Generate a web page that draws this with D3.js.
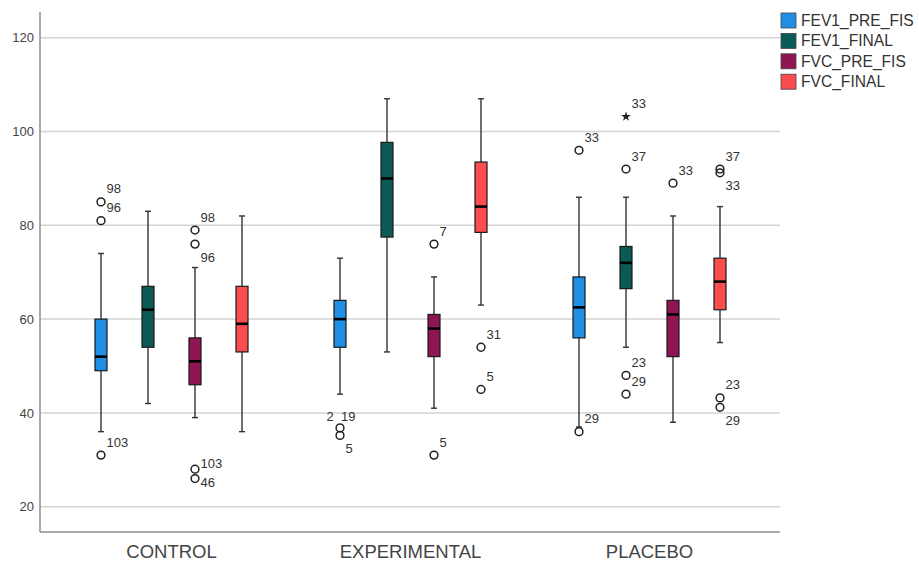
<!DOCTYPE html>
<html>
<head>
<meta charset="utf-8">
<script src="https://cdn.jsdelivr.net/npm/d3@7"></script>
<style>
  html, body { margin: 0; padding: 0; background: #fff; }
  svg { display: block; font-family: "Liberation Sans", Arial, sans-serif; }
</style>
</head>
<body>
<div id="chart"></div>
<script>
// ── Data ────────────────────────────────────────────────────────
const GROUPS = ["CONTROL", "EXPERIMENTAL", "PLACEBO"];
const SERIES = ["FEV1_PRE_FIS", "FEV1_FINAL", "FVC_PRE_FIS", "FVC_FINAL"];
const COLORS = ["#1f8fe6", "#0c5a55", "#8f1652", "#fb4c4f"];
const Y_TICKS = [20, 40, 60, 80, 100, 120];

// [lower whisker, Q1, median, Q3, upper whisker] per group
const FEV1_PRE_FIS = [[36, 49, 52, 60, 74], [44, 54, 60, 64, 73], [37, 56, 62.5, 69, 86]];
const FEV1_FINAL   = [[42, 54, 62, 67, 83], [53, 77.5, 90, 97.7, 107], [54, 66.5, 72, 75.5, 86]];
const FVC_PRE_FIS  = [[39, 46, 51, 56, 71], [41, 52, 58, 61, 69], [38, 52, 61, 64, 82]];
const FVC_FINAL    = [[36, 53, 59, 67, 82], [63, 78.5, 84, 93.5, 107], [55, 62, 68, 73, 84]];
const STATS = [FEV1_PRE_FIS, FEV1_FINAL, FVC_PRE_FIS, FVC_FINAL];

// outliers: group, series, value, case label, kind ("o" outlier, "*" extreme)
const OUTLIER_GROUP  = [0, 0, 0, 0, 0, 0, 0, 1, 1, 1, 1, 1, 1, 2, 2, 2, 2, 2, 2, 2, 2, 2, 2, 2];
const OUTLIER_SERIES = [0, 0, 0, 2, 2, 2, 2, 0, 0, 2, 2, 3, 3, 0, 0, 1, 1, 1, 1, 2, 3, 3, 3, 3];
const OUTLIER_VALUE  = [85, 81, 31, 79, 76, 28, 26, 36.8, 35.2, 76, 31, 54, 45, 96, 36, 103.2, 92, 48, 44, 89, 92, 91.2, 43.2, 41.2];
const OUTLIER_LABEL  = ["98", "96", "103", "98", "96", "103", "46", "2  19", "5", "7", "5", "31", "5",
                        "33", "29", "33", "37", "23", "29", "33", "37", "33", "23", "29"];
const OUTLIER_KIND   = ["o", "o", "o", "o", "o", "o", "o", "o", "o", "o", "o", "o", "o",
                        "o", "o", "*", "o", "o", "o", "o", "o", "o", "o", "o"];
// where the case label sits relative to its marker
const LABEL_SIDE     = ["ne", "ne", "ne", "ne", "se", "en", "es", "n", "se", "ne", "ne", "ne", "ne",
                        "ne", "ne", "ne", "ne", "ne", "ne", "ne", "ne", "se", "ne", "se"];

// ── Layout ──────────────────────────────────────────────────────
const W = 919, H = 565;
const plot = { left: 40, right: 780, top: 12, bottom: 532 };

const svg = d3.select("#chart").append("svg")
    .attr("width", W)
    .attr("height", H);

const y = d3.scaleLinear()
    .domain([14.6, 125.5])
    .range([plot.bottom, plot.top]);

const x0 = d3.scaleBand()
    .domain(GROUPS)
    .range([52, 769]);

const x1 = d3.scaleBand()
    .domain(SERIES)
    .range([-94, 94]);

const boxW = 12;
const cx = (g, s) => x0(GROUPS[g]) + x0.bandwidth() / 2 + x1(SERIES[s]) + x1.bandwidth() / 2;

// ── Grid lines ──────────────────────────────────────────────────
svg.append("g").selectAll("line")
    .data(Y_TICKS)
    .join("line")
    .attr("x1", plot.left).attr("x2", plot.right)
    .attr("y1", d => y(d)).attr("y2", d => y(d))
    .attr("stroke", "#d3d3d3")
    .attr("stroke-width", 1.5);

// ── Axes ────────────────────────────────────────────────────────
const yAxis = svg.append("g")
    .attr("transform", `translate(${plot.left},0)`)
    .call(d3.axisLeft(y).tickValues(Y_TICKS).tickSize(0).tickPadding(6));
yAxis.select(".domain").remove();
yAxis.selectAll("text")
    .attr("fill", "#444")
    .style("font-size", "13px")
    .style("font-family", "'Liberation Sans', Arial, sans-serif");

const xAxis = svg.append("g")
    .attr("transform", `translate(0,${plot.bottom})`)
    .call(d3.axisBottom(x0).tickSize(0).tickPadding(13));
xAxis.select(".domain").remove();
xAxis.selectAll("text")
    .attr("fill", "#444")
    .style("font-size", "18.5px")
    .style("font-family", "'Liberation Sans', Arial, sans-serif");

svg.append("line")
    .attr("x1", plot.left).attr("x2", plot.left)
    .attr("y1", plot.top).attr("y2", plot.bottom)
    .attr("stroke", "#8c8c8c").attr("stroke-width", 1.5);
svg.append("line")
    .attr("x1", plot.left).attr("x2", plot.right)
    .attr("y1", plot.bottom).attr("y2", plot.bottom)
    .attr("stroke", "#8c8c8c").attr("stroke-width", 1.5);

// ── Boxes ───────────────────────────────────────────────────────
const boxes = [];
STATS.forEach((rows, s) => rows.forEach((st, g) => boxes.push({ g, s, st })));

const bg = svg.append("g").selectAll("g")
    .data(boxes)
    .join("g")
    .attr("transform", d => `translate(${cx(d.g, d.s)},0)`);

// whisker stems
bg.append("line")
    .attr("y1", d => y(d.st[0])).attr("y2", d => y(d.st[1]))
    .attr("stroke", "#333").attr("stroke-width", 1.4);
bg.append("line")
    .attr("y1", d => y(d.st[3])).attr("y2", d => y(d.st[4]))
    .attr("stroke", "#333").attr("stroke-width", 1.4);
// caps
[0, 4].forEach(i => {
    bg.append("line")
        .attr("x1", -3).attr("x2", 3)
        .attr("y1", d => y(d.st[i])).attr("y2", d => y(d.st[i]))
        .attr("stroke", "#333").attr("stroke-width", 1.4);
});
// box
bg.append("rect")
    .attr("x", -boxW / 2)
    .attr("width", boxW)
    .attr("y", d => y(d.st[3]))
    .attr("height", d => y(d.st[1]) - y(d.st[3]))
    .attr("fill", d => COLORS[d.s])
    .attr("stroke", "#1a1a1a")
    .attr("stroke-width", 1.2);
// median
bg.append("line")
    .attr("x1", -boxW / 2).attr("x2", boxW / 2)
    .attr("y1", d => y(d.st[2])).attr("y2", d => y(d.st[2]))
    .attr("stroke", "#000").attr("stroke-width", 2.6);

// ── Outliers ────────────────────────────────────────────────────
const outliers = OUTLIER_VALUE.map((v, i) => ({
    g: OUTLIER_GROUP[i], s: OUTLIER_SERIES[i], v,
    label: OUTLIER_LABEL[i], kind: OUTLIER_KIND[i], side: LABEL_SIDE[i]
}));

const og = svg.append("g");
og.selectAll("circle")
    .data(outliers.filter(d => d.kind === "o"))
    .join("circle")
    .attr("cx", d => cx(d.g, d.s))
    .attr("cy", d => y(d.v))
    .attr("r", 3.9)
    .attr("fill", "none")
    .attr("stroke", "#222")
    .attr("stroke-width", 1.5);

og.selectAll("path")
    .data(outliers.filter(d => d.kind === "*"))
    .join("path")
    .attr("transform", d => `translate(${cx(d.g, d.s)},${y(d.v)})`)
    .attr("d", d3.symbol(d3.symbolStar, 30))
    .attr("fill", "#222");

const sideDy = { ne: -13, se: 13, en: -6, es: 4, n: -11 };
og.selectAll("text")
    .data(outliers)
    .join("text")
    .attr("x", d => cx(d.g, d.s) + (d.side === "n" ? 1 : 5.5))
    .attr("y", d => y(d.v) + sideDy[d.side])
    .attr("dy", "0.35em")
    .attr("text-anchor", d => d.side === "n" ? "middle" : "start")
    .attr("fill", "#333")
    .style("font-size", "13px")
    .style("white-space", "pre")
    .text(d => d.label);

// ── Legend ──────────────────────────────────────────────────────
const legend = svg.append("g")
    .attr("transform", "translate(781,13)")
    .selectAll("g")
    .data(SERIES)
    .join("g")
    .attr("transform", (d, i) => `translate(0,${i * 20.4})`);

legend.append("rect")
    .attr("width", 15).attr("height", 15)
    .attr("fill", (d, i) => COLORS[i])
    .attr("stroke", "#444").attr("stroke-width", 0.8);

legend.append("text")
    .attr("x", 20)
    .attr("y", 7.5)
    .attr("dy", "0.35em")
    .attr("fill", "#333")
    .style("font-size", "15.6px")
    .text(d => d);
</script>
</body>
</html>
